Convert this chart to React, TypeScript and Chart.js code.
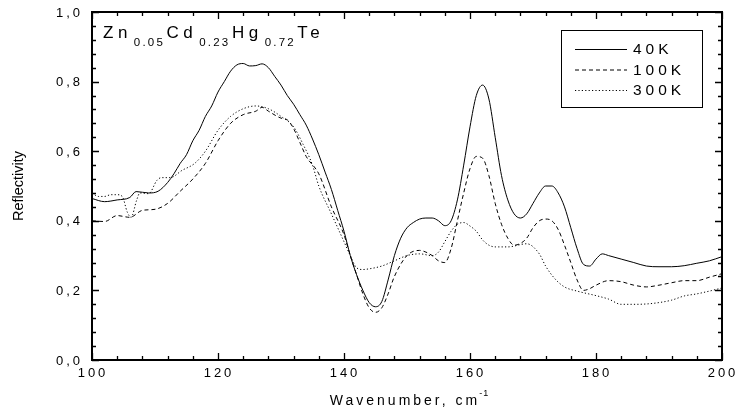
import React, { useEffect, useRef } from "react";
import { Chart, registerables } from "chart.js";
Chart.register(...registerables);

// ---- data ----
const wn40 = [100, 102, 104, 106, 107, 109, 110.5, 112, 113, 114, 115, 116, 117, 118, 119, 120, 121, 122, 123, 124, 125, 126, 127, 128, 129, 130, 131, 132, 133, 134, 135, 136, 137, 138, 139, 140, 141, 142, 143, 144, 145, 146, 147, 148, 149, 150, 151, 152, 153, 154, 155, 156, 157, 158, 159, 160, 161, 162, 163, 164, 165, 166, 167, 168, 169, 170, 171, 172, 173, 174, 175, 176, 177, 178, 179, 180, 181, 182, 184, 186, 188, 190, 192, 194, 196, 198, 200];
const r40 = [0.464, 0.455, 0.46, 0.467, 0.484, 0.48, 0.485, 0.51, 0.535, 0.565, 0.59, 0.63, 0.66, 0.7, 0.73, 0.77, 0.8, 0.83, 0.848, 0.852, 0.845, 0.846, 0.851, 0.84, 0.815, 0.79, 0.76, 0.735, 0.705, 0.675, 0.635, 0.59, 0.54, 0.49, 0.43, 0.37, 0.3, 0.245, 0.2, 0.165, 0.153, 0.168, 0.23, 0.3, 0.35, 0.38, 0.395, 0.405, 0.408, 0.408, 0.4, 0.386, 0.4, 0.46, 0.56, 0.67, 0.76, 0.79, 0.75, 0.64, 0.53, 0.46, 0.42, 0.408, 0.42, 0.45, 0.48, 0.5, 0.5, 0.48, 0.44, 0.38, 0.32, 0.275, 0.27, 0.29, 0.305, 0.3, 0.29, 0.28, 0.27, 0.268, 0.268, 0.271, 0.278, 0.285, 0.297];

const wn100 = [100, 102, 104, 106, 108, 110, 112, 114, 116, 118, 120, 122, 124, 126, 127, 128, 130, 131, 132, 133, 134, 136, 138, 140, 141, 142, 143, 144, 145, 146, 147, 148, 150, 152, 153, 154, 155, 156, 157, 158, 159, 160, 161, 162, 163, 164, 165, 166, 167, 168, 169, 170, 171, 172, 173, 174, 175, 176, 177, 178, 179, 180, 182, 184, 186, 188, 190, 192, 194, 196, 198, 200];
const r100 = [0.4, 0.398, 0.415, 0.41, 0.43, 0.433, 0.45, 0.485, 0.52, 0.565, 0.63, 0.68, 0.705, 0.715, 0.726, 0.715, 0.695, 0.69, 0.665, 0.625, 0.585, 0.535, 0.44, 0.36, 0.3, 0.245, 0.19, 0.15, 0.137, 0.15, 0.19, 0.24, 0.3, 0.315, 0.31, 0.3, 0.285, 0.28, 0.32, 0.4, 0.48, 0.55, 0.585, 0.58, 0.53, 0.45, 0.39, 0.35, 0.33, 0.335, 0.35, 0.38, 0.4, 0.405, 0.4, 0.375, 0.33, 0.28, 0.23, 0.2, 0.205, 0.215, 0.228, 0.225, 0.215, 0.21, 0.215, 0.222, 0.228, 0.228, 0.238, 0.248];

const wn300 = [100, 101, 102, 103, 104, 104.8, 105.6, 106.2, 107.1, 107.6, 109, 110.3, 111, 112.4, 114.3, 116.3, 118, 120, 122, 124, 126, 128, 130, 132, 133.5, 135, 136, 138, 140, 141, 142, 143, 144, 146, 148, 150, 152, 154, 155, 156, 157, 158, 159, 160, 161, 162, 163, 164, 166, 169, 171, 172, 173.5, 175, 177, 180, 182, 184, 186, 188, 190, 192, 194, 196, 198, 200];
const r300 = [0.48, 0.47, 0.47, 0.475, 0.475, 0.47, 0.425, 0.41, 0.46, 0.48, 0.478, 0.516, 0.524, 0.524, 0.545, 0.565, 0.6, 0.66, 0.7, 0.722, 0.73, 0.722, 0.7, 0.67, 0.62, 0.56, 0.5, 0.42, 0.34, 0.3, 0.265, 0.26, 0.262, 0.27, 0.285, 0.3, 0.305, 0.3, 0.31, 0.34, 0.37, 0.39, 0.395, 0.385, 0.37, 0.345, 0.33, 0.325, 0.325, 0.334, 0.305, 0.27, 0.233, 0.21, 0.198, 0.185, 0.175, 0.16, 0.16, 0.161, 0.165, 0.172, 0.184, 0.19, 0.198, 0.207];

const seriesLabels = ["40K", "100K", "300K"];
const titleParts: [string, string][] = [["Zn", "0.05"], ["Cd", "0.23"], ["Hg", "0.72"], ["Te", ""]];
const xAxisTitle = "Wavenumber, cm";
const xAxisTitleSup = "-1";
const yAxisTitle = "Reflectivity";
const xMinorStep = 4;
const yMinorStep = 0.04;

const FONT = "'Liberation Sans', Arial, sans-serif";
const dashes: number[][] = [[], [4, 3], [1.2, 2.2]];

export default function App() {
  const ref = useRef<HTMLCanvasElement>(null);
  useEffect(() => {
    document.body.style.margin = "0";
    const canvas = ref.current!;

    const decor = {
      id: "decor",
      afterDraw(chart: any) {
        const ctx = chart.ctx as CanvasRenderingContext2D & { letterSpacing: string };
        const { left, right, top, bottom } = chart.chartArea;
        const xs = chart.scales.x, ys = chart.scales.y;
        ctx.save();
        ctx.strokeStyle = "#000";
        ctx.fillStyle = "#000";
        // inward ticks (major + minor) on all four sides
        ctx.lineWidth = 1.3;
        ctx.beginPath();
        const nx = Math.round((xs.max - xs.min) / xMinorStep);
        for (let i = 0; i <= nx; i++) {
          const v = xs.min + i * xMinorStep;
          const px = Math.round(xs.getPixelForValue(v)) + 0.5;
          const len = i % 5 === 0 ? 7 : 4;
          ctx.moveTo(px, bottom); ctx.lineTo(px, bottom - len);
          ctx.moveTo(px, top); ctx.lineTo(px, top + len);
        }
        const ny = Math.round((ys.max - ys.min) / yMinorStep);
        for (let i = 0; i <= ny; i++) {
          const v = ys.min + i * yMinorStep;
          const py = Math.round(ys.getPixelForValue(v)) + 0.5;
          const len = i % 5 === 0 ? 7 : 4;
          ctx.moveTo(left, py); ctx.lineTo(left + len, py);
          ctx.moveTo(right, py); ctx.lineTo(right - len, py);
        }
        ctx.stroke();
        // frame
        ctx.lineWidth = 2;
        ctx.strokeRect(left, top, right - left, bottom - top);

        // tick labels from the scales' own ticks
        ctx.font = `13px ${FONT}`;
        ctx.letterSpacing = "3px";
        ctx.textAlign = "center";
        ctx.textBaseline = "middle";
        xs.ticks.forEach((t: any) => {
          ctx.fillText(String(t.value), xs.getPixelForValue(t.value) + 1, bottom + 13);
        });
        ctx.textAlign = "right";
        ys.ticks.forEach((t: any) => {
          ctx.fillText(Number(t.value).toFixed(1).replace(".", ","), left - 9, ys.getPixelForValue(t.value) + 1);
        });

        // title with subscripts
        let x = 103;
        ctx.textBaseline = "alphabetic";
        ctx.textAlign = "left";
        for (const [main, sub] of titleParts) {
          ctx.font = `17px ${FONT}`;
          ctx.letterSpacing = "4.5px";
          ctx.fillText(main, x, 38);
          x += ctx.measureText(main).width + 2;
          if (sub) {
            ctx.font = `11.5px ${FONT}`;
            ctx.letterSpacing = "2.2px";
            ctx.fillText(sub, x, 46);
            x += ctx.measureText(sub).width + 1.5;
          }
        }

        // legend
        const bx = 561, by = 30, bw = 141, bh = 77;
        ctx.lineWidth = 1;
        ctx.strokeRect(bx + 0.5, by + 0.5, bw, bh);
        chart.data.datasets.forEach((ds: any, i: number) => {
          const cy = 49 + i * 20.5;
          ctx.setLineDash(dashes[i]);
          ctx.lineWidth = 1;
          ctx.beginPath();
          ctx.moveTo(575, cy + 0.5); ctx.lineTo(627, cy + 0.5);
          ctx.stroke();
          ctx.setLineDash([]);
          ctx.font = `15.5px ${FONT}`;
          ctx.letterSpacing = "4px";
          ctx.textBaseline = "middle";
          ctx.textAlign = "left";
          ctx.fillText(ds.label, 633, cy + 1);
        });

        // axis titles
        ctx.textBaseline = "alphabetic";
        ctx.textAlign = "left";
        ctx.font = `14px ${FONT}`;
        ctx.letterSpacing = "3px";
        const w1 = ctx.measureText(xAxisTitle).width;
        ctx.font = `9px ${FONT}`;
        ctx.letterSpacing = "1px";
        const w2 = ctx.measureText(xAxisTitleSup).width;
        const cx = (left + right) / 2 + 3;
        const tx = cx - (w1 + w2) / 2;
        ctx.font = `14px ${FONT}`;
        ctx.letterSpacing = "3px";
        ctx.fillText(xAxisTitle, tx, 405);
        ctx.font = `9px ${FONT}`;
        ctx.letterSpacing = "1px";
        ctx.fillText(xAxisTitleSup, tx + w1 - 1, 396);

        ctx.translate(19, (top + bottom) / 2);
        ctx.rotate(-Math.PI / 2);
        ctx.font = `14.5px ${FONT}`;
        ctx.letterSpacing = "0px";
        ctx.textAlign = "center";
        ctx.textBaseline = "middle";
        ctx.fillText(yAxisTitle, 0, 0);
        ctx.restore();
        (ctx as any).letterSpacing = "0px";
      },
    };

    const mk = (xs: number[], ys: number[]) => xs.map((x, i) => ({ x, y: ys[i] }));
    const chart = new Chart(canvas, {
      type: "line",
      data: {
        datasets: [
          { label: seriesLabels[0], data: mk(wn40, r40) },
          { label: seriesLabels[1], data: mk(wn100, r100) },
          { label: seriesLabels[2], data: mk(wn300, r300) },
        ].map((d, i) => ({
          ...d,
          borderColor: "#000",
          borderWidth: 1,
          borderDash: dashes[i],
          pointRadius: 0,
          fill: false,
          tension: 0.4,
          cubicInterpolationMode: "monotone" as const,
        })),
      },
      options: {
        responsive: false,
        animation: false,
        events: [],
        layout: { padding: { top: 12, right: 13, left: 0, bottom: 0 } },
        plugins: { legend: { display: false }, tooltip: { enabled: false }, title: { display: false } },
        scales: {
          x: {
            type: "linear",
            min: 100,
            max: 200,
            grid: { display: false, drawTicks: false },
            border: { display: false },
            ticks: { display: false, stepSize: 20 },
            afterFit: (s: any) => { s.height = 56; s.paddingLeft = 0; s.paddingRight = 0; },
          },
          y: {
            min: 0,
            max: 1,
            grid: { display: false, drawTicks: false },
            border: { display: false },
            ticks: { display: false, stepSize: 0.2 },
            afterFit: (s: any) => { s.width = 92; s.paddingTop = 0; s.paddingBottom = 0; },
          },
        },
      },
      plugins: [decor],
    });
    return () => chart.destroy();
  }, []);
  return <canvas ref={ref} width={735} height={416} style={{ display: "block" }} />;
}
